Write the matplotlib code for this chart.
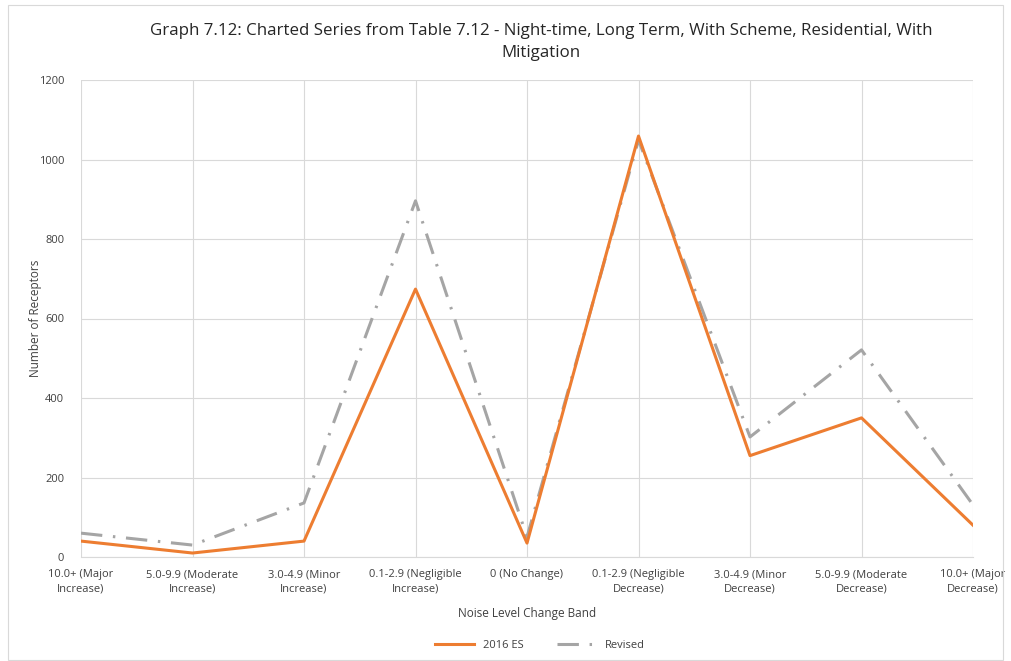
import matplotlib.pyplot as plt
from matplotlib.patches import Rectangle

# Receptor counts per noise change band
bands = ["10.0+ (Major\nIncrease)", "5.0-9.9 (Moderate\nIncrease)", "3.0-4.9 (Minor\nIncrease)",
         "0.1-2.9 (Negligible\nIncrease)", "0 (No Change)", "0.1-2.9 (Negligible\nDecrease)",
         "3.0-4.9 (Minor\nDecrease)", "5.0-9.9 (Moderate\nDecrease)", "10.0+ (Major\nDecrease)"]
es_2016 = [40, 10, 40, 674, 35, 1059, 255, 350, 80]
revised = [60, 30, 136, 896, 50, 1049, 302, 521, 131]
y_ticks = [0, 200, 400, 600, 800, 1000, 1200]

plt.rcParams['font.family'] = ['Open Sans', 'DejaVu Sans']

fig = plt.figure(figsize=(10.11, 6.61), dpi=100)
ax = fig.add_axes([81 / 1011, 1 - 557 / 661, (973 - 81) / 1011, (557 - 80) / 661])

x = list(range(len(bands)))
ax.plot(x, es_2016, color="#ED7D31", linewidth=2.2, label="2016 ES", zorder=3)
ax.plot(x, revised, color="#A5A5A5", linewidth=2.2, dashes=(7, 3.5, 0.8, 3.5), label="Revised", zorder=2)

ax.set_xlim(0, len(bands) - 1)
ax.set_ylim(0, 1200)
ax.set_yticks(y_ticks)
ax.set_xticks(x)
ax.set_xticklabels(bands, fontsize=8, color="#404040", linespacing=1.35)
ax.tick_params(axis="y", labelsize=8, labelcolor="#404040", length=0, pad=12)
ax.tick_params(axis="x", length=0, pad=9)
ax.grid(True, color="#D9D9D9", linewidth=0.8)
ax.set_axisbelow(True)
for side in ["top", "right", "left"]:
    ax.spines[side].set_visible(False)
ax.spines["bottom"].set_color("#D9D9D9")

ax.set_xlabel("Noise Level Change Band", fontsize=8.5, color="#404040", labelpad=9)
ax.set_ylabel("Number of Receptors", fontsize=8.5, color="#404040", labelpad=-2)

fig.text(0.535, 1 - 42 / 661, "Graph 7.12: Charted Series from Table 7.12 - Night-time, Long Term, With Scheme, Residential, With\nMitigation",
         ha="center", va="center", fontsize=12.2, color="#262626", linespacing=1.45)

fig.legend(loc="center", bbox_to_anchor=(540 / 1011, 1 - 645 / 661), ncol=2, frameon=False,
           fontsize=8, handlelength=3.5, columnspacing=3, labelcolor="#404040")

# thin chart frame
fig.patches.append(Rectangle((8 / 1011, 0.002), 995 / 1011, 0.99, transform=fig.transFigure,
                             fill=False, edgecolor="#D9D9D9", linewidth=0.8))

fig.savefig("out.png", dpi=100)
